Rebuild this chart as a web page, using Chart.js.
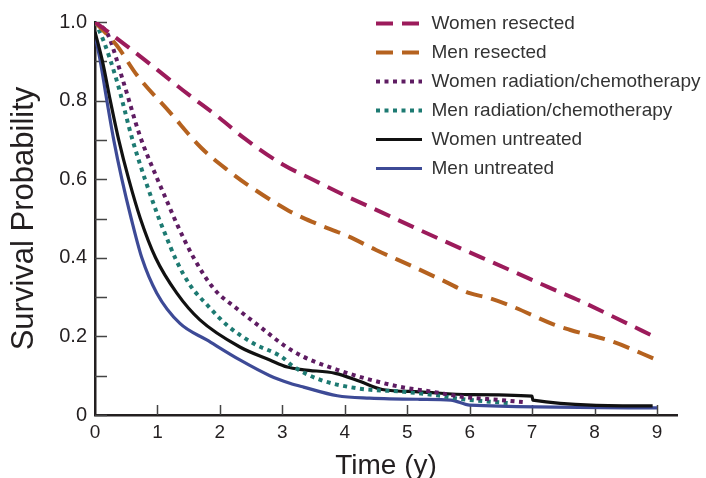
<!DOCTYPE html>
<html>
<head>
<meta charset="utf-8">
<script src="https://cdn.jsdelivr.net/npm/chart.js@4.4.0/dist/chart.umd.min.js"></script>
<style>
  html, body { margin: 0; padding: 0; background: #fff; }
  #wrap { width: 706px; height: 478px; }
</style>
</head>
<body>
<div id="wrap"><canvas id="survivalChart" width="706" height="478"></canvas></div>
<script>
// survival curves (time in years, survival probability)
var womenResectedT = [0, 0.5, 1.0, 1.5, 2.0, 2.4, 3.0, 3.5, 4.05, 4.6, 5.1, 5.6, 6.2, 6.7, 7.25, 7.8, 8.3, 9.0];
var womenResectedS = [1.0, 0.94, 0.878, 0.815, 0.755, 0.703, 0.638, 0.598, 0.555, 0.515, 0.478, 0.442, 0.40, 0.365, 0.326, 0.288, 0.25, 0.196];

var menResectedT = [0, 0.35, 0.67, 1.2, 1.7, 2.15, 2.45, 3.1, 3.5, 4.05, 4.5, 5.1, 5.6, 6.0, 6.3, 6.7, 7.35, 7.6, 8.3, 9.0];
var menResectedS = [1.0, 0.94, 0.865, 0.77, 0.68, 0.62, 0.585, 0.52, 0.49, 0.455, 0.42, 0.377, 0.34, 0.31, 0.298, 0.275, 0.23, 0.217, 0.186, 0.14];

var womenRadChemoT = [0, 0.2, 0.45, 0.72, 1.0, 1.15, 1.32, 1.58, 1.91, 2.27, 2.64, 3.02, 3.34, 3.88, 4.4, 4.94, 5.37, 5.9, 6.5, 6.85];
var womenRadChemoS = [1.0, 0.97, 0.85, 0.71, 0.60, 0.545, 0.483, 0.40, 0.32, 0.271, 0.225, 0.178, 0.148, 0.115, 0.09, 0.07, 0.06, 0.046, 0.038, 0.033];

var menRadChemoT = [0, 0.13, 0.35, 0.61, 1.0, 1.12, 1.30, 1.52, 1.82, 2.14, 2.54, 2.99, 3.18, 3.6, 4.2, 4.94, 5.48, 5.9, 6.65];
var menRadChemoS = [1.0, 0.955, 0.85, 0.695, 0.51, 0.462, 0.394, 0.331, 0.276, 0.225, 0.182, 0.148, 0.123, 0.09, 0.068, 0.059, 0.05, 0.04, 0.03];

var womenUntreatedT = [0, 0.12, 0.245, 0.38, 0.54, 0.726, 0.97, 1.31, 1.68, 2.32, 2.8, 3.08, 3.34, 3.85, 4.25, 4.6, 5.2, 6.0, 7.0, 7.01, 8.93];
var womenUntreatedS = [0.975, 0.9, 0.8, 0.7, 0.6, 0.5, 0.4, 0.31, 0.242, 0.173, 0.14, 0.122, 0.115, 0.106, 0.085, 0.065, 0.059, 0.052, 0.048, 0.038, 0.023];

var menUntreatedT = [0, 0.085, 0.19, 0.30, 0.43, 0.58, 0.75, 0.99, 1.36, 1.79, 2.32, 2.8, 3.12, 3.34, 3.88, 4.4, 5.2, 5.7, 6.0, 9.0];
var menUntreatedS = [0.967, 0.9, 0.8, 0.7, 0.6, 0.5, 0.4, 0.31, 0.233, 0.191, 0.14, 0.10, 0.081, 0.071, 0.049, 0.043, 0.04, 0.038, 0.025, 0.018];

var xTickValues = [0, 1, 2, 3, 4, 5, 6, 7, 8, 9];
var yTickValues = [0, 0.1, 0.2, 0.3, 0.4, 0.5, 0.6, 0.7, 0.8, 0.9, 1.0];

var textColor = '#231f20';
var fontFamily = '"Liberation Sans", Arial, sans-serif';

function toPoints(t, s) {
  return t.map(function (v, i) { return { x: v, y: s[i] }; });
}

function curve(label, t, s, color, dash, width) {
  return {
    label: label,
    data: toPoints(t, s),
    borderColor: color,
    backgroundColor: color,
    borderWidth: width,
    borderDash: dash,
    borderCapStyle: 'butt',
    pointRadius: 0,
    pointHoverRadius: 0,
    fill: false,
    cubicInterpolationMode: 'monotone'
  };
}

// small inward tick marks on both axes
var innerTicks = {
  id: 'innerTicks',
  beforeDatasetsDraw: function (chart) {
    var ctx = chart.ctx;
    var xs = chart.scales.x, ys = chart.scales.y;
    var area = chart.chartArea;
    ctx.save();
    ctx.strokeStyle = '#444';
    ctx.lineWidth = 1.5;
    ctx.beginPath();
    yTickValues.forEach(function (v) {
      var py = Math.round(ys.getPixelForValue(v)) + 0.5;
      ctx.moveTo(area.left, py);
      ctx.lineTo(area.left + 12, py);
    });
    xTickValues.forEach(function (v) {
      if (v === 0) return;
      var px = Math.round(xs.getPixelForValue(v)) + 0.5;
      ctx.moveTo(px, area.bottom);
      ctx.lineTo(px, area.bottom - 10);
    });
    ctx.stroke();
    ctx.restore();
  }
};

// put the legend in the upper right corner of the plot
var legendCorner = {
  id: 'legendCorner',
  afterLayout: function (chart) {
    var l = chart.legend;
    l.left = 366;
    l.top = 4;
    l.right = l.left + l.width;
    l.bottom = l.top + l.height;
  }
};

new Chart(document.getElementById('survivalChart'), {
  type: 'line',
  data: {
    datasets: [
      curve('Women resected', womenResectedT, womenResectedS, '#9c1b5b', [17, 9], 4),
      curve('Men resected', menResectedT, menResectedS, '#b5621f', [17, 9], 4),
      curve('Women radiation/chemotherapy', womenRadChemoT, womenRadChemoS, '#5e1c62', [4, 4.5], 4),
      curve('Men radiation/chemotherapy', menRadChemoT, menRadChemoS, '#1d7a72', [4, 4.5], 4),
      curve('Women untreated', womenUntreatedT, womenUntreatedS, '#111111', [], 3.2),
      curve('Men untreated', menUntreatedT, menUntreatedS, '#3d4a96', [], 3.2)
    ]
  },
  options: {
    responsive: false,
    animation: false,
    layout: { padding: { top: 22, right: 29, left: 0, bottom: 0 } },
    plugins: {
      tooltip: { enabled: false },
      legend: {
        position: 'chartArea',
        align: 'start',
        labels: {
          usePointStyle: true,
          pointStyle: 'line',
          pointStyleWidth: 46,
          padding: 10,
          color: '#333',
          font: { family: fontFamily, size: 19 },
          // keep each dataset's dash pattern on its legend line
          generateLabels: function (chart) {
            var items = Chart.defaults.plugins.legend.labels.generateLabels(chart);
            items.forEach(function (item) {
              var ds = chart.data.datasets[item.datasetIndex];
              item.lineDash = ds.borderDash;
              item.lineWidth = ds.borderWidth;
              item.strokeStyle = ds.borderColor;
              item.lineCap = 'butt';
            });
            return items;
          }
        }
      }
    },
    scales: {
      x: {
        type: 'linear',
        min: 0,
        max: 9.32,
        afterBuildTicks: function (scale) {
          scale.ticks = xTickValues.map(function (v) { return { value: v }; });
        },
        afterFit: function (scale) { scale.height = 63; },
        grid: { display: false, drawTicks: false },
        border: { display: true, color: textColor, width: 2.5 },
        ticks: {
          padding: 6,
          color: textColor,
          maxRotation: 0,
          font: { family: fontFamily, size: 19 },
          callback: function (v) { return String(v); }
        },
        title: {
          display: true,
          text: 'Time (y)',
          color: textColor,
          padding: { top: 0, bottom: -2 },
          font: { family: fontFamily, size: 28, lineHeight: 1 }
        }
      },
      y: {
        min: 0,
        max: 1.0,
        afterBuildTicks: function (scale) {
          scale.ticks = yTickValues.map(function (v) { return { value: v }; });
        },
        afterFit: function (scale) { scale.width = 95; },
        grid: { display: false, drawTicks: false },
        border: { display: true, color: textColor, width: 2.5 },
        ticks: {
          padding: 8,
          color: textColor,
          font: { family: fontFamily, size: 20 },
          callback: function (v) {
            var tenths = Math.round(v * 10);
            if (tenths % 2 !== 0) return '';
            if (tenths === 0) return '0';
            return (tenths / 10).toFixed(1);
          }
        },
        title: {
          display: true,
          text: 'Survival Probability',
          color: textColor,
          padding: { top: 9, bottom: 0 },
          font: { family: fontFamily, size: 31, lineHeight: 1 }
        }
      }
    }
  },
  plugins: [innerTicks, legendCorner]
});
</script>
</body>
</html>
